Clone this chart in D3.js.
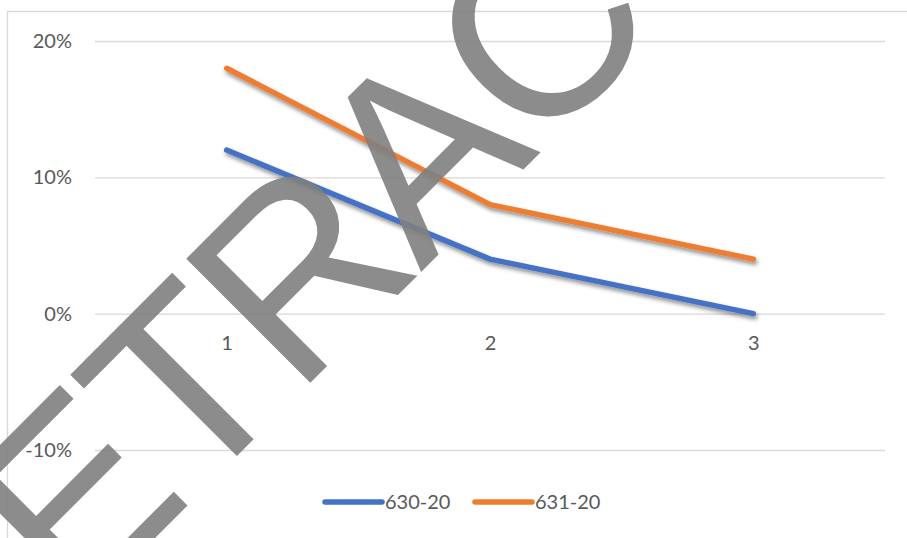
<!DOCTYPE html>
<html>
<head>
<meta charset="utf-8">
<script src="https://cdn.jsdelivr.net/npm/d3@7"></script>
<style>
  html, body { margin: 0; padding: 0; background: #ffffff; }
  svg { display: block; }
</style>
</head>
<body>
<svg id="chart" width="907" height="538"></svg>
<script>
// Category labels along the horizontal axis
const categories = ["1", "2", "3"];
// Series values (fractions, shown as percentages)
const series630 = [0.12, 0.04, 0.00];
const series631 = [0.18, 0.08, 0.04];
const seriesNames = ["630-20", "631-20"];
const seriesColors = ["#4472C4", "#ED7D31"];
// Value-axis ticks
const yTicks = [-0.1, 0, 0.1, 0.2];

const W = 907, H = 538;
const plot = { left: 95, right: 885, top: 41, bottom: 450 };
const labelFont = "Lato, 'Open Sans', 'Liberation Sans', sans-serif";
const textColor = "#595959";
const gridColor = "#d9d9d9";

const svg = d3.select("#chart");

// Drop shadow for the series lines
const defs = svg.append("defs");
const shadow = defs.append("filter").attr("id", "lineShadow")
  .attr("x", "-10%").attr("y", "-10%").attr("width", "120%").attr("height", "130%");
shadow.append("feDropShadow")
  .attr("dx", 1.5).attr("dy", 3).attr("stdDeviation", 2.2)
  .attr("flood-color", "#000").attr("flood-opacity", 0.45);

// Chart-area border
svg.append("path")
  .attr("d", `M7.5,${H + 5} L7.5,11.5 L${W + 5},11.5`)
  .attr("fill", "none").attr("stroke", gridColor).attr("stroke-width", 1.3);

const x = d3.scalePoint().domain(categories).range([plot.left, plot.right]).padding(0.5);
const y = d3.scaleLinear().domain([-0.1, 0.2]).range([plot.bottom, plot.top]);

// Percent labels with a plain hyphen for negatives
const pct = v => d3.format(".0%")(v).replace("\u2212", "-");

// Horizontal gridlines and value labels
const yAxis = svg.append("g")
  .attr("transform", `translate(${plot.left},0)`)
  .call(d3.axisLeft(y).tickValues(yTicks).tickFormat(pct)
    .tickSize(-(plot.right - plot.left)).tickPadding(23));
yAxis.select(".domain").remove();
yAxis.selectAll(".tick line").attr("stroke", gridColor).attr("stroke-width", 1.3);
yAxis.selectAll(".tick text")
  .attr("fill", textColor).attr("font-family", labelFont).attr("font-size", 20);

// Category labels just below the zero line
const xAxis = svg.append("g")
  .attr("transform", `translate(0,${y(0)})`)
  .call(d3.axisBottom(x).tickSize(0).tickPadding(22));
xAxis.select(".domain").remove();
xAxis.selectAll(".tick text")
  .attr("fill", textColor).attr("font-family", labelFont).attr("font-size", 20);

// Series lines
const line = d3.line().x((d, i) => x(categories[i])).y(d => y(d));
[series630, series631].forEach((vals, k) => {
  svg.append("path")
    .datum(vals)
    .attr("d", line)
    .attr("fill", "none")
    .attr("stroke", seriesColors[k])
    .attr("stroke-width", 5.5)
    .attr("stroke-linecap", "round")
    .attr("stroke-linejoin", "round")
    .attr("filter", "url(#lineShadow)");
});

// Legend
const legend = svg.append("g");
const legendX = [325, 475];
seriesNames.forEach((name, k) => {
  const gItem = legend.append("g").attr("transform", `translate(${legendX[k]},502)`);
  gItem.append("line")
    .attr("x1", 0).attr("x2", 57).attr("y1", 0).attr("y2", 0)
    .attr("stroke", seriesColors[k]).attr("stroke-width", 5.5)
    .attr("stroke-linecap", "round");
  gItem.append("text")
    .attr("x", 60).attr("y", 7)
    .attr("fill", textColor).attr("font-family", labelFont).attr("font-size", 20)
    .text(name);
});

// Diagonal watermark across the figure
const wmGroup = svg.append("g").attr("transform", "rotate(-45)");
const wm = wmGroup.append("text")
  .attr("x", 0).attr("y", 490)
  .attr("font-family", "'Liberation Sans', Arial, sans-serif")
  .attr("font-size", 255)
  .attr("letter-spacing", -7)
  .attr("fill", "#808080")
  .attr("fill-opacity", 0.9)
  .text("RETRACTED");
const eStart = wm.node().getStartPositionOfChar(1).x;
wm.attr("x", -384 - eStart);
</script>
</body>
</html>
